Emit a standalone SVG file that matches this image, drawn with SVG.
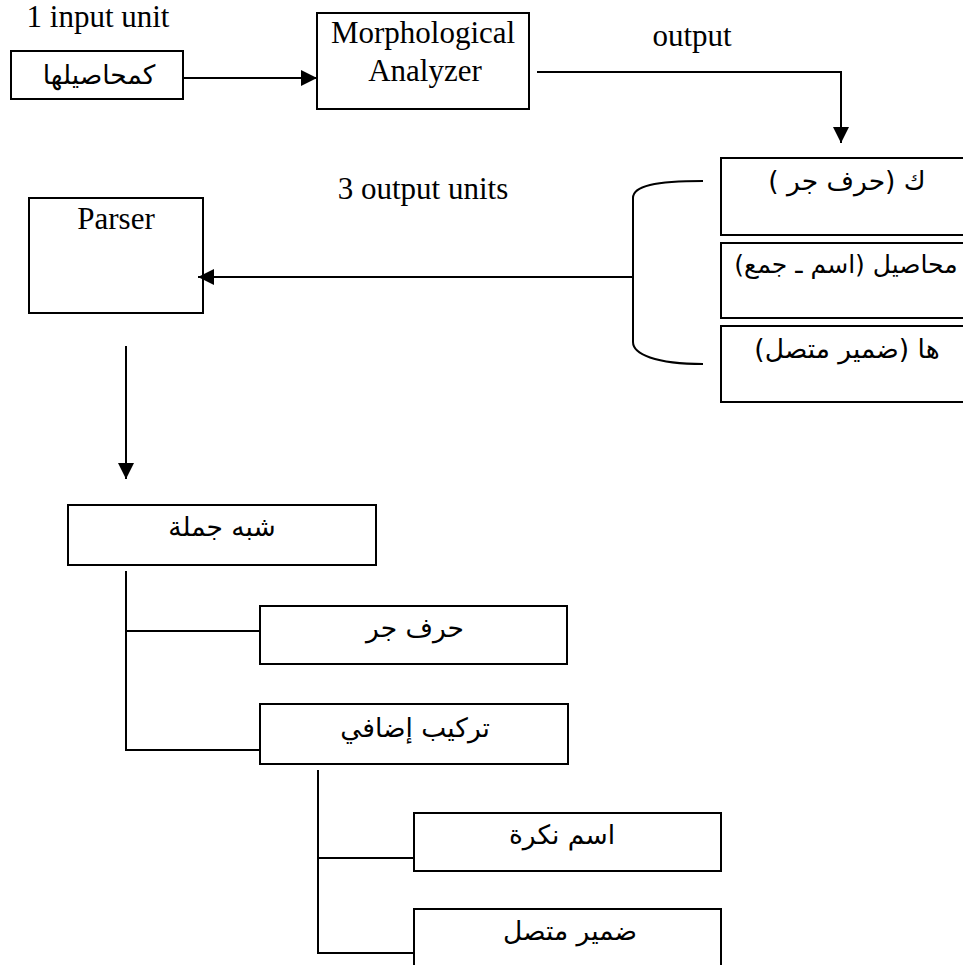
<svg xmlns="http://www.w3.org/2000/svg" width="963" height="965" viewBox="0 0 963 965">
  <style>
    .box { fill: #fff; stroke: #000; stroke-width: 2; }
    .wire { fill: none; stroke: #000; stroke-width: 2; }
    .lat { font-family: "Liberation Serif", "Times New Roman", serif; font-size: 31px; fill: #000; text-anchor: middle; }
    .ar { font-family: "DejaVu Sans", "Liberation Sans", sans-serif; font-size: 26.5px; fill: #000; text-anchor: middle; direction: rtl; unicode-bidi: embed; }
    .ar.narrow { font-size: 25px; }
  </style>
  <defs>
    <marker id="head" markerUnits="userSpaceOnUse" markerWidth="18" markerHeight="18" refX="16" refY="8" orient="auto">
      <path d="M0,0 L16,8 L0,16 z" fill="#000"/>
    </marker>
  </defs>

  <rect width="963" height="965" fill="#fff"/>

  <!-- free labels -->
  <text class="lat" x="98" y="27">1 input unit</text>
  <text class="lat" x="692" y="46">output</text>
  <text class="lat" x="423" y="199">3 output units</text>

  <!-- nodes -->
  <g id="input-word">
    <rect class="box" x="11" y="51" width="172" height="48"/>
    <text class="ar" x="99" y="84">كمحاصيلها</text>
  </g>

  <g id="morph-analyzer">
    <rect class="box" x="317" y="13" width="212" height="96"/>
    <text class="lat" x="423" y="43">Morphological</text>
    <text class="lat" x="425" y="81">Analyzer</text>
  </g>

  <g id="unit-ka">
    <rect class="box" x="721" y="158" width="260" height="77"/>
    <text class="ar" x="847" y="190">ك (حرف جر )</text>
  </g>

  <g id="unit-mahasil">
    <rect class="box" x="721" y="243" width="260" height="75"/>
    <text class="ar narrow" x="846" y="273">محاصيل (اسم ـ جمع)</text>
  </g>

  <g id="unit-ha">
    <rect class="box" x="721" y="326" width="260" height="76"/>
    <text class="ar" x="847" y="358">ها (ضمير متصل)</text>
  </g>

  <g id="parser">
    <rect class="box" x="29" y="198" width="174" height="115"/>
    <text class="lat" x="116" y="229">Parser</text>
  </g>

  <g id="shibh-jumla">
    <rect class="box" x="68" y="505" width="308" height="60"/>
    <text class="ar" x="222" y="536">شبه جملة</text>
  </g>

  <g id="harf-jar">
    <rect class="box" x="260" y="606" width="307" height="58"/>
    <text class="ar" x="415" y="637">حرف جر</text>
  </g>

  <g id="tarkib-idafi">
    <rect class="box" x="260" y="704" width="308" height="60"/>
    <text class="ar" x="415" y="737">تركيب إضافي</text>
  </g>

  <g id="ism-nakira">
    <rect class="box" x="414" y="813" width="307" height="58"/>
    <text class="ar" x="562" y="844">اسم نكرة</text>
  </g>

  <g id="damir-muttasil">
    <rect class="box" x="414" y="909" width="307" height="80"/>
    <text class="ar" x="570" y="940">ضمير متصل</text>
  </g>

  <!-- connectors -->
  <g id="connectors">
    <line class="wire" x1="183" y1="78" x2="317" y2="78" marker-end="url(#head)"/>
    <polyline class="wire" points="537,72 841,72 841,143" marker-end="url(#head)"/>
    <path class="wire" d="M703,181 C655,181 633,186 633,198 L633,342 C633,354 655,364 703,364"/>
    <line class="wire" x1="633" y1="277" x2="198" y2="277" marker-end="url(#head)"/>
    <line class="wire" x1="126" y1="346" x2="126" y2="479" marker-end="url(#head)"/>
    <polyline class="wire" points="126,571 126,750 260,750"/>
    <line class="wire" x1="126" y1="631" x2="260" y2="631"/>
    <polyline class="wire" points="318,770 318,953 414,953"/>
    <line class="wire" x1="318" y1="858" x2="414" y2="858"/>
  </g>
</svg>
